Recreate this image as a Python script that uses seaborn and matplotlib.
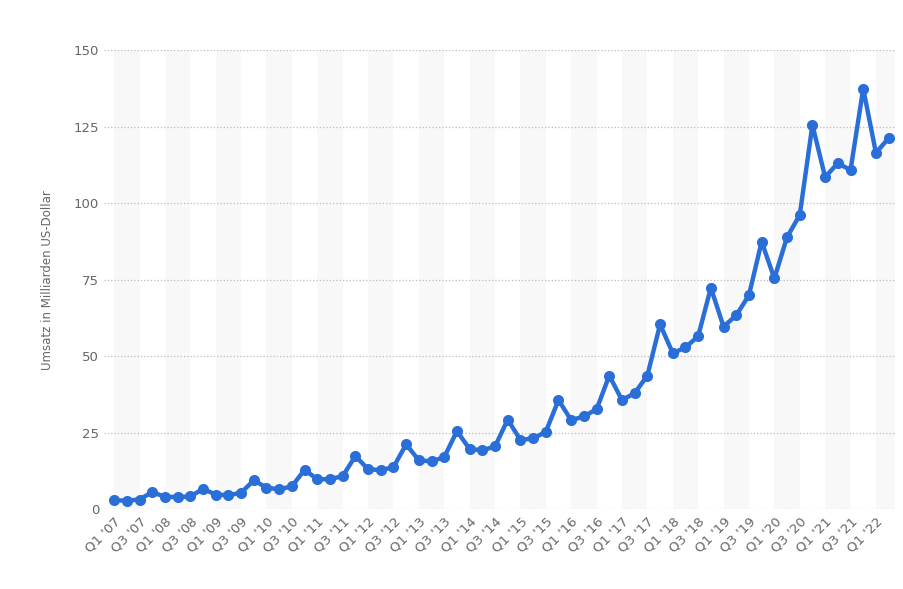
import matplotlib
matplotlib.use("Agg")
import matplotlib.pyplot as plt
import seaborn as sns
import pandas as pd

years = list(range(2007, 2023))
revenue = [3.02, 2.89, 3.26, 5.67,
           4.13, 4.06, 4.26, 6.70,
           4.89, 4.65, 5.45, 9.52,
           7.13, 6.57, 7.56, 12.95,
           9.86, 9.91, 10.88, 17.43,
           13.18, 12.83, 13.81, 21.27,
           16.07, 15.70, 17.09, 25.59,
           19.74, 19.34, 20.58, 29.33,
           22.72, 23.18, 25.36, 35.75,
           29.13, 30.40, 32.71, 43.74,
           35.71, 37.96, 43.74, 60.45,
           51.04, 52.89, 56.58, 72.38,
           59.70, 63.40, 69.98, 87.44,
           75.45, 88.91, 96.15, 125.56,
           108.52, 113.08, 110.81, 137.41,
           116.44, 121.23]
quarters = [f"Q{q} '{y % 100:02d}" for y in years for q in range(1, 5)][:len(revenue)]

df = pd.DataFrame({"idx": range(len(revenue)), "quarter": quarters, "revenue": revenue})

sns.set_style("white")
fig, ax = plt.subplots(figsize=(9.04, 5.89), dpi=100)
fig.subplots_adjust(left=0.115, right=0.99, top=0.915, bottom=0.135)

# alternating background bands
for k in range(0, len(revenue), 4):
    ax.axvspan(k, k + 2, color="#f8f8f8", zorder=0, lw=0)

sns.lineplot(data=df, x="idx", y="revenue", ax=ax, color="#2a6fd8", lw=3.2,
             marker="o", markersize=8, markeredgewidth=0, zorder=3)

ax.set_ylim(0, 150)
ax.set_yticks(range(0, 151, 25))
ax.set_xlim(-0.8, len(revenue) - 0.5)
ax.set_xticks(df["idx"][::2])
ax.set_xticklabels(df["quarter"][::2], rotation=45, ha="right", rotation_mode="anchor")
ax.yaxis.grid(True, ls=":", color="#bbbbbb", lw=0.9)
ax.set_axisbelow(True)
for s in ax.spines.values():
    s.set_visible(False)
ax.tick_params(axis="both", length=0, colors="#666666", labelsize=9.5)
ax.tick_params(axis="x", pad=4)
ax.set_xlabel("")
ax.set_ylabel("Umsatz in Milliarden US-Dollar", color="#666666", fontsize=8.5, labelpad=14)

fig.savefig("out.png", dpi=100)
